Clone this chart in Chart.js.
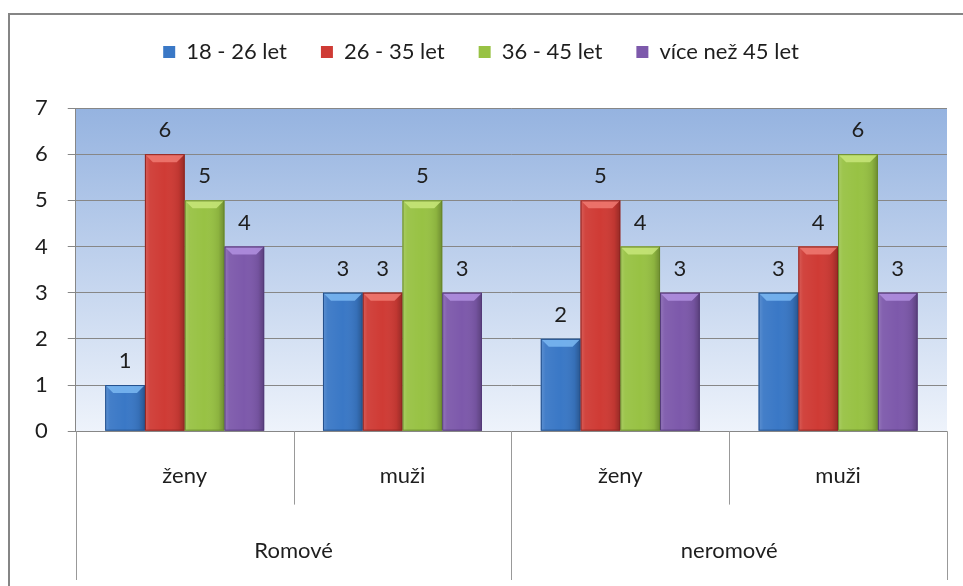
<!DOCTYPE html>
<html>
<head>
<meta charset="utf-8">
<script src="https://cdn.jsdelivr.net/npm/chart.js@4.4.1/dist/chart.umd.min.js"></script>
<style>
  html, body { margin: 0; padding: 0; background: #fff; }
  #wrap { width: 963px; height: 586px; }
</style>
</head>
<body>
<div id="wrap"><canvas id="ageChart" width="963" height="586"></canvas></div>
<script>
// data
var groups = ['ženy', 'muži', 'ženy', 'muži'];
var ethnicGroups = ['Romové', 'neromové'];
var seriesNames = ['18 - 26 let', '26 - 35 let', '36 - 45 let', 'více než 45 let'];
var age18to26 = [1, 3, 2, 3];
var age26to35 = [6, 3, 5, 4];
var age36to45 = [5, 5, 4, 6];
var ageOver45 = [4, 3, 3, 3];
var yTicks = [0, 1, 2, 3, 4, 5, 6, 7];

var baseColors = ['#3a78c6', '#cf3b35', '#98c244', '#7d59ab'];
var darkColors = ['#24508c', '#8e2420', '#67882a', '#533a78'];
var lightColors = ['#7bb8f2', '#f07a72', '#c8e67a', '#b191e0'];

var FONT = 'Lato, "Open Sans", sans-serif';
var TEXT = '#1e1e1e';

// rámeček grafu + pozadí plochy
var backgroundPlugin = {
    id: 'background',
    beforeInit: function (chart) {
        // místo pod legendou
        var fit = chart.legend.fit;
        chart.legend.fit = function () {
            fit.call(this);
            this.height += 35;
        };
    },
    beforeDraw: function (chart) {
        var c = chart.ctx, a = chart.chartArea;
        c.save();
        c.strokeStyle = '#858585';
        c.lineWidth = 2;
        c.strokeRect(9, 14, 1100, 1100);
        var g = c.createLinearGradient(0, a.top, 0, a.bottom);
        g.addColorStop(0, '#95b3e0');
        g.addColorStop(1, '#eef3fb');
        c.fillStyle = g;
        c.fillRect(a.left, a.top, a.right - a.left, a.bottom - a.top);
        c.restore();
    }
};

// 3D efekt sloupců + popisky hodnot
var barsPlugin = {
    id: 'barLook',
    afterDatasetsDraw: function (chart) {
        var c = chart.ctx;
        c.save();
        chart.data.datasets.forEach(function (ds, di) {
            var meta = chart.getDatasetMeta(di);
            meta.data.forEach(function (bar, i) {
                var p = bar.getProps(['x', 'y', 'base', 'width'], true);
                var l = p.x - p.width / 2, r = p.x + p.width / 2;
                var h = p.base - p.y;
                var g = c.createLinearGradient(l, 0, r, 0);
                g.addColorStop(0, 'rgba(255,255,255,0.18)');
                g.addColorStop(0.12, 'rgba(255,255,255,0.05)');
                g.addColorStop(0.5, 'rgba(255,255,255,0)');
                g.addColorStop(0.85, 'rgba(0,0,0,0.08)');
                g.addColorStop(1, 'rgba(0,0,0,0.28)');
                c.fillStyle = g;
                c.fillRect(l, p.y, p.width, h);
                // horní zkosení
                var bev = Math.min(8, h / 2);
                c.beginPath();
                c.moveTo(l, p.y);
                c.lineTo(r, p.y);
                c.lineTo(r - 8, p.y + bev);
                c.lineTo(l + 8, p.y + bev);
                c.closePath();
                c.fillStyle = lightColors[di];
                c.globalAlpha = 0.85;
                c.fill();
                c.globalAlpha = 1;
                c.strokeStyle = darkColors[di];
                c.lineWidth = 1;
                c.strokeRect(l + 0.5, p.y + 0.5, p.width - 1, h - 1);
                // hodnota
                c.fillStyle = TEXT;
                c.font = '22px ' + FONT;
                c.textAlign = 'center';
                c.textBaseline = 'middle';
                c.fillText(ds.data[i], p.x, p.y - 24);
            });
        });
        c.restore();
    }
};

// dělicí čáry kategorií pod osou
var dividerPlugin = {
    id: 'dividers',
    afterDraw: function (chart) {
        var c = chart.ctx, x = chart.scales.x, x2 = chart.scales.x2;
        var half = (x.getPixelForValue(1) - x.getPixelForValue(0)) / 2;
        c.save();
        c.strokeStyle = '#999999';
        c.lineWidth = 1;
        for (var i = 0; i <= groups.length; i++) {
            var px = Math.round(x.getPixelForValue(i) - half) + 0.5;
            var end = (i % 2 === 0) ? x2.bottom : x.bottom - 9;
            c.beginPath();
            c.moveTo(px, chart.chartArea.bottom);
            c.lineTo(px, end);
            c.stroke();
        }
        c.restore();
    }
};

var ctx = document.getElementById('ageChart').getContext('2d');
var ageChart = new Chart(ctx, {
    type: 'bar',
    data: {
        labels: groups,
        datasets: [
            { label: seriesNames[0], data: age18to26, backgroundColor: baseColors[0] },
            { label: seriesNames[1], data: age26to35, backgroundColor: baseColors[1] },
            { label: seriesNames[2], data: age36to45, backgroundColor: baseColors[2] },
            { label: seriesNames[3], data: ageOver45, backgroundColor: baseColors[3] }
        ]
    },
    options: {
        responsive: false,
        animation: false,
        layout: { padding: { left: 15, right: 16, top: 7, bottom: 6 } },
        datasets: { bar: { barPercentage: 1, categoryPercentage: 0.73 } },
        plugins: {
            tooltip: { enabled: false },
            legend: {
                position: 'top',
                labels: {
                    font: { family: FONT, size: 22 },
                    color: TEXT,
                    boxWidth: 12,
                    boxHeight: 12,
                    padding: 34
                }
            }
        },
        scales: {
            y: {
                min: 0,
                max: 7,
                afterBuildTicks: function (axis) {
                    axis.ticks = yTicks.map(function (v) { return { value: v }; });
                },
                ticks: { font: { family: FONT, size: 22 }, color: TEXT, padding: 20 },
                grid: { color: '#878787', tickLength: 8 },
                border: { color: '#878787' }
            },
            x: {
                grid: { display: false },
                border: { display: false },
                ticks: { font: { family: FONT, size: 22 }, color: TEXT, padding: 24 },
                weight: 0
            },
            x2: {
                type: 'category',
                position: 'bottom',
                labels: ethnicGroups,
                offset: true,
                weight: 1,
                grid: { display: false },
                border: { display: false },
                ticks: { font: { family: FONT, size: 22 }, color: TEXT, padding: 16 }
            }
        }
    },
    plugins: [backgroundPlugin, barsPlugin, dividerPlugin]
});
</script>
</body>
</html>
